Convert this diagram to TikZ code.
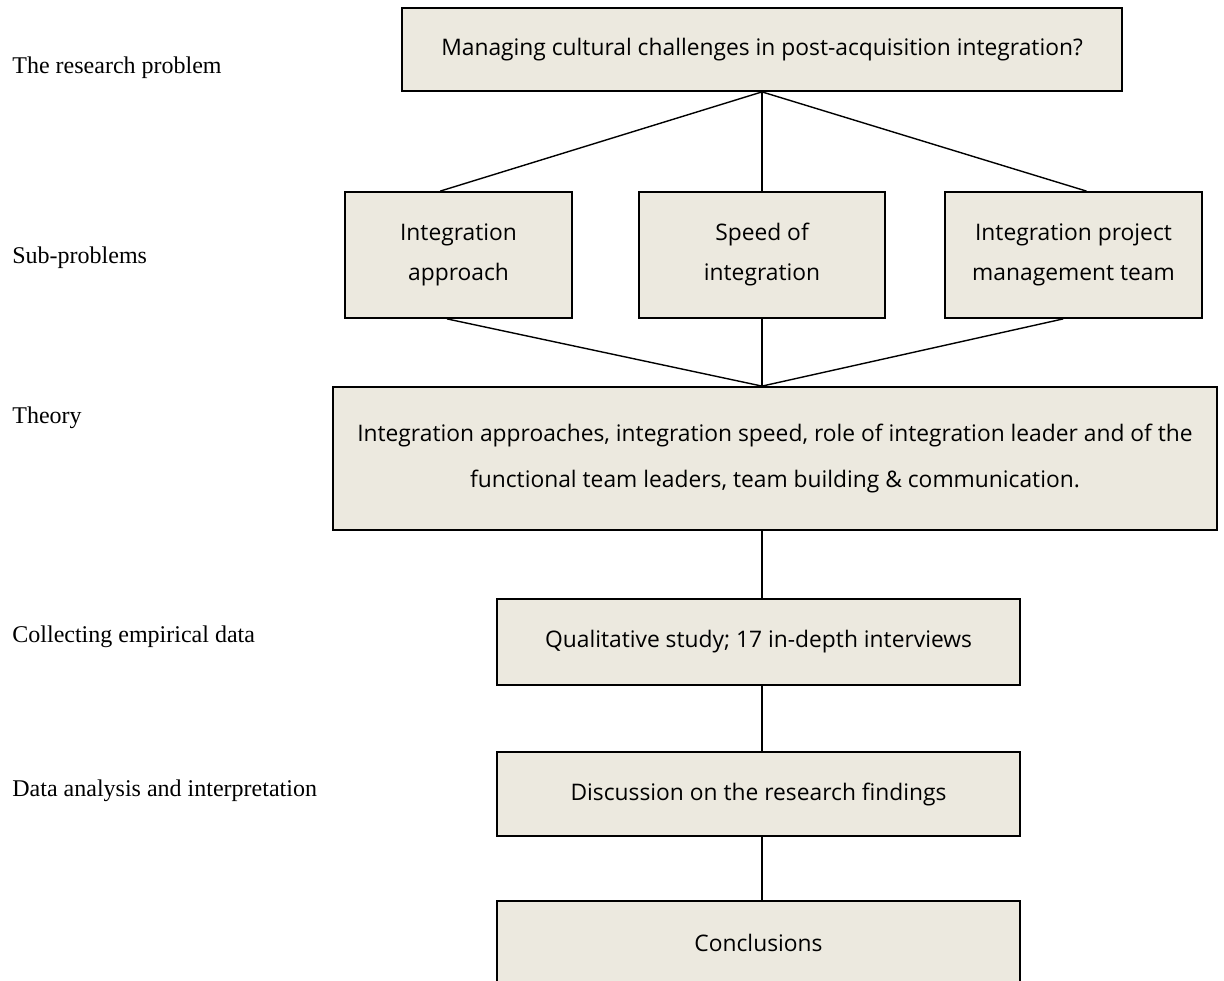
\documentclass[tikz,border=0pt]{standalone}
\usepackage{fontspec}
\setmainfont{Liberation Serif}
\newfontfamily\boxfont{Open Sans}
\usetikzlibrary{calc}
\definecolor{boxfill}{HTML}{ECE9DF}

\begin{document}
\begin{tikzpicture}[x=0.5pt, y=-0.5pt,
  box/.style={draw, line width=0.9pt, fill=boxfill, rectangle, align=center, inner sep=0pt,
    font=\boxfont\fontsize{11.4pt}{20pt}\selectfont},
  lbl/.style={anchor=west, inner sep=0pt, font=\fontsize{12pt}{14pt}\selectfont},
  link/.style={line width=0.7pt}]
  \useasboundingbox (0,0) rectangle (1224,980);

  \node[lbl] (lblproblem) at (12,68) {The research problem};
  \node[lbl] (lblsub) at (12,258) {Sub-problems};
  \node[lbl] (lbltheory) at (12,418) {Theory};
  \node[lbl] (lbldata) at (12,637) {Collecting empirical data};
  \node[lbl] (lblanalysis) at (12,791) {Data analysis and interpretation};

  \node[box, minimum width=360pt, minimum height=41.5pt] (problem) at (762,49.5)
    {Managing cultural challenges in post-acquisition integration?};

  \node[box, minimum width=113.5pt, minimum height=63pt] (sub1) at (458.5,255) {Integration\\approach};
  \node[box, minimum width=123pt, minimum height=63pt] (sub2) at (762,255) {Speed of\\integration};
  \node[box, minimum width=128.5pt, minimum height=63pt] (sub3) at (1073.5,255) {Integration project\\management team};

  \node[box, minimum width=442pt, minimum height=71.5pt,
    font=\boxfont\fontsize{11.4pt}{23pt}\selectfont] (theory) at (775,458.5)
    {Integration approaches, integration speed, role of integration leader and of the\\
     functional team leaders, team building \& communication.};

  \node[box, minimum width=261.5pt, minimum height=43pt] (study) at (758.5,642) {Qualitative study; 17 in-depth interviews};
  \node[box, minimum width=261.5pt, minimum height=42pt] (findings) at (758.5,794) {Discussion on the research findings};
  \node[box, minimum width=261.5pt, minimum height=42pt] (concl) at (758.5,943) {Conclusions};

  \draw[link] (problem.south) -- ($(sub1.north west)!0.42!(sub1.north east)$);
  \draw[link] (problem.south) -- (sub2.north);
  \draw[link] (problem.south) -- ($(sub3.north west)!0.55!(sub3.north east)$);

  \draw[link] ($(sub1.south west)!0.45!(sub1.south east)$) -- (theory.north -| problem.south);
  \draw[link] (sub2.south) -- (theory.north -| sub2.south);
  \draw[link] ($(sub3.south west)!0.46!(sub3.south east)$) -- (theory.north -| problem.south);

  \draw[link] (theory.south -| problem.south) -- (study.north -| problem.south);
  \draw[link] (study.south -| problem.south) -- (findings.north -| problem.south);
  \draw[link] (findings.south -| problem.south) -- (concl.north -| problem.south);
\end{tikzpicture}
\end{document}
